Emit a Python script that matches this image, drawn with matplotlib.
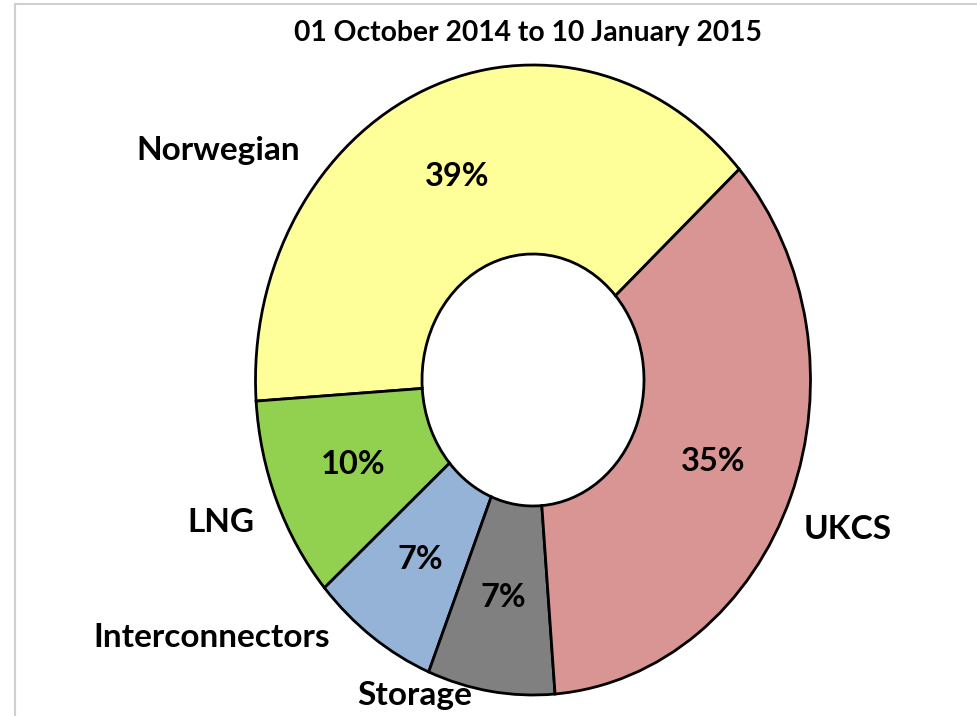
import matplotlib.pyplot as plt
from matplotlib.patches import Rectangle

# Supply shares, 01 Oct 2014 - 10 Jan 2015
sources = ['Norwegian', 'LNG', 'Interconnectors', 'Storage', 'UKCS']
shares = [39.4, 10.4, 7.4, 7.4, 35.4]
colours = ['#FFFF99', '#92D050', '#95B3D7', '#808080', '#D99594']

# where the category labels sit (data coords of the pie axes)
label_xy = [(-1.135, 0.73), (-1.124, -0.451), (-1.157, -0.816),
            (-0.425, -1.0), (1.135, -0.476)]

plt.rcParams['font.family'] = ['Lato', 'DejaVu Sans']

fig = plt.figure(figsize=(9.78, 7.16), dpi=100)
fig.patch.set_facecolor('white')

# light chart-area border (runs off the right/bottom of the picture)
fig.patches.append(Rectangle((15 / 978, -0.1), 1.2, 1.1 - 4 / 716,
                             transform=fig.transFigure, fill=False,
                             edgecolor='#CFCFCF', linewidth=1.5))

ax = fig.add_axes([255.5 / 978, 21 / 716, 555 / 978, 630 / 716])
wedges, texts, autotexts = ax.pie(
    shares, colors=colours, startangle=42, counterclock=True,
    radius=1.0, autopct='%.0f%%', pctdistance=0.7,
    wedgeprops=dict(width=0.6, edgecolor='black', linewidth=2),
    textprops=dict(fontsize=23.5, fontweight='bold', color='black'))
for w in wedges:
    w.set_clip_on(False)
ax.set_aspect('auto')
ax.set_xlim(-1, 1)
ax.set_ylim(-1, 1)
ax.axis('off')

for name, (x, y) in zip(sources, label_xy):
    ax.text(x, y, name, ha='center', va='center', fontsize=24,
            fontweight='bold', clip_on=False)

fig.text(528 / 978, 1 - 33 / 716, '01 October 2014 to 10 January 2015',
         ha='center', va='center', fontsize=20.3, fontweight='bold')

plt.savefig('out.png', dpi=100)
plt.close()
